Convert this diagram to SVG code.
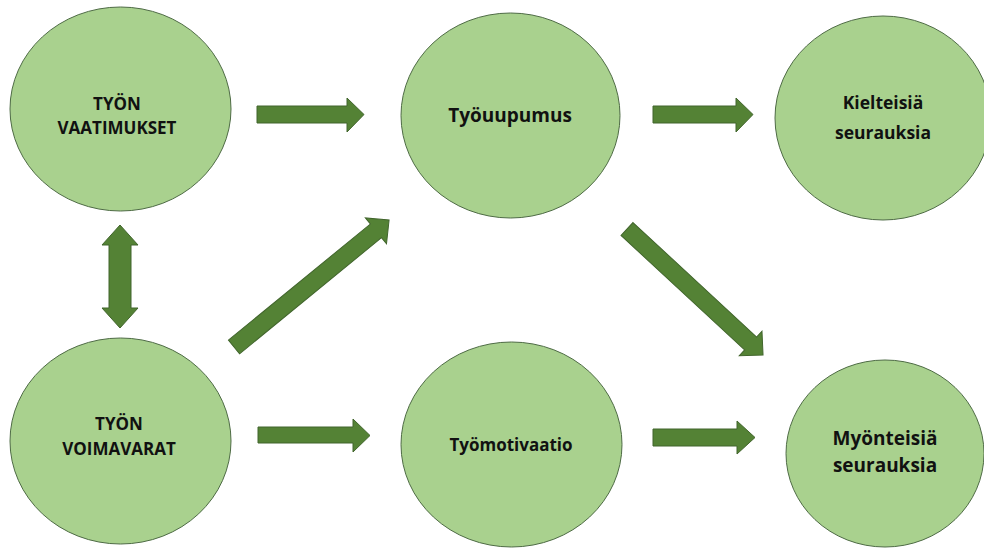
<svg xmlns="http://www.w3.org/2000/svg" width="984" height="548" viewBox="0 0 984 548">
<style>
.node ellipse{fill:#a9d18e;stroke:#4e6b45;stroke-width:1}
.node text{font-family:"Open Sans","Liberation Sans",sans-serif;font-weight:bold;fill:#111;text-anchor:middle}
.arr{fill:#548235;stroke:#41652c;stroke-width:1}
</style>
<rect width="984" height="548" fill="#ffffff"/>
<g id="tyon-vaatimukset" class="node">
<ellipse cx="120.5" cy="109" rx="110.5" ry="102"/>
<text x="117" y="110" font-size="17">TYÖN</text>
<text x="117" y="134" font-size="17">VAATIMUKSET</text>
</g>
<g id="tyouupumus" class="node">
<ellipse cx="510.5" cy="115.5" rx="109.5" ry="102.5"/>
<text x="510" y="122" font-size="19">Työuupumus</text>
</g>
<g id="kielteisia" class="node">
<ellipse cx="883" cy="118" rx="108" ry="102"/>
<text x="883" y="109" font-size="17.5">Kielteisiä</text>
<text x="883" y="139" font-size="17.5">seurauksia</text>
</g>
<g id="tyon-voimavarat" class="node">
<ellipse cx="120.5" cy="441" rx="110.5" ry="103"/>
<text x="119" y="430" font-size="17">TYÖN</text>
<text x="119" y="455" font-size="17">VOIMAVARAT</text>
</g>
<g id="tyomotivaatio" class="node">
<ellipse cx="511.5" cy="444.5" rx="110.5" ry="102.5"/>
<text x="511" y="451" font-size="17">Työmotivaatio</text>
</g>
<g id="myonteisia" class="node">
<ellipse cx="885" cy="453.5" rx="99" ry="93.5"/>
<text x="885" y="445" font-size="19">Myönteisiä</text>
<text x="885" y="472" font-size="19">seurauksia</text>
</g>
<g id="connectors">
<path class="arr" d="M257,106 H347 V98 L364,114.5 L347,132 V123 H257 Z"/>
<path class="arr" d="M653,106 H736 V98 L753,114.5 L736,132 V123 H653 Z"/>
<path class="arr" d="M258,427 H353 V419 L370,435.5 L353,452 V443 H258 Z"/>
<path class="arr" d="M653,429 H737 V421 L755,437.5 L737,454 V446 H653 Z"/>
<path class="arr" d="M120,225 L138,245 H131 V308 H138 L120,328 L102,308 H109 V245 H102 Z"/>
<path class="arr" transform="translate(234,347) rotate(-39.3)" d="M0,-8.8 H183.4 V-16.7 L200.4,0 L183.4,16.7 V8.8 H0 Z"/>
<path class="arr" transform="translate(627,229) rotate(42.8)" d="M0,-8.8 H168.5 V-16.7 L185.4,0 L168.5,16.7 V8.8 H0 Z"/>
</g>
</svg>
